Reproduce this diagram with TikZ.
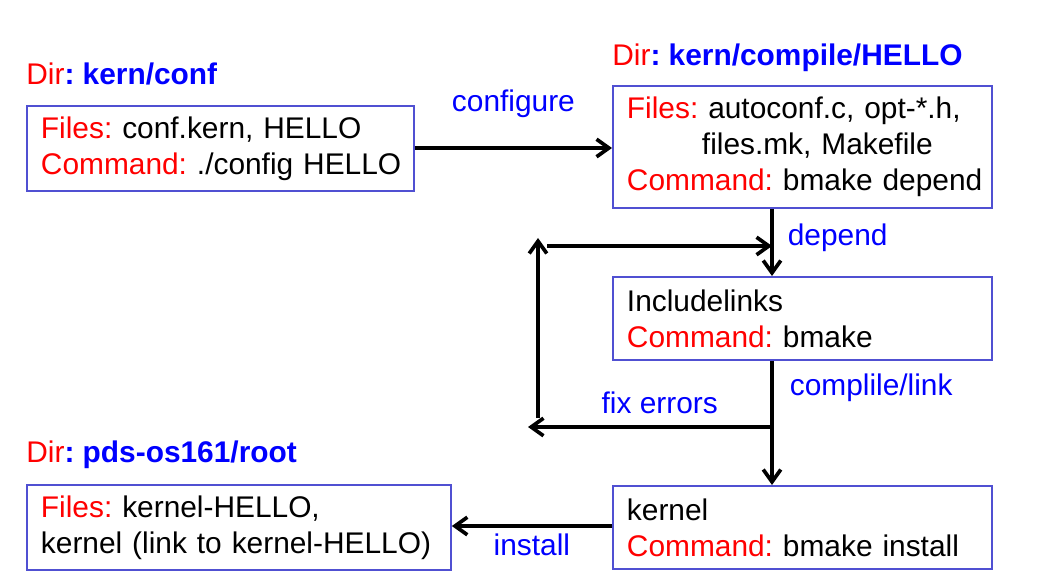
\documentclass[tikz,border=0pt]{standalone}
\usepackage{fontspec}
\setmainfont{Liberation Sans}
\usetikzlibrary{
  arrows.meta,
  math,
  positioning,
}
\definecolor{boxblue}{RGB}{80,80,210}
\newcommand{\key}[1]{\textcolor{red}{#1}}
\newcommand{\dirof}[1]{%
  \textcolor{red}{Dir}\textcolor{blue}{\textbf{: #1}}%
}

\begin{document}
\begin{tikzpicture}[
  x=0.02cm,
  y=-0.02cm,
  font={\fontsize{17}{20.5}\selectfont\frenchspacing},
  box/.style n args={2}{
    draw=boxblue,
    line width=1.1pt,
    anchor=north west,
    align=left,
    inner sep=0pt,
    text width=#1,
    minimum height=#2,
    execute at begin node={\leftskip=0.28cm},
  },
  dir/.style={
    anchor=base west,
    inner sep=0pt,
  },
  lbl/.style={
    text=blue,
    inner sep=0pt,
  },
  arrow/.style={
    -{Straight Barb[length=7pt,width=10pt]},
    line width=2.1pt,
  },
]
  \useasboundingbox (0,0) rectangle (1049,588);

  \tikzmath{
    \tapx = 772;
    \loopx = 538;
  }

  %%%%%%%%%%%%%%%%%%%% DIRECTORIES %%%%%%%%%%%%%%%%%%%%

  \node[dir] (confdir) at (26,85) {\dirof{kern/conf}};
  \node[dir] (compdir) at (612,66) {\dirof{kern/compile/HELLO}};
  \node[dir] (rootdir) at (26,462) {\dirof{pds-os161/root}};

  %%%%%%%%%%%%%%%%%%%% BOXES %%%%%%%%%%%%%%%%%%%%

  \node[box={7.74cm}{1.7cm}] (conf) at (26,105)
    {\key{Files:} conf.kern, HELLO\\
     \key{Command:} ./config HELLO};

  \node[box={7.58cm}{2.44cm}] (compile) at (612,85)
    {\key{Files:} autoconf.c, opt-*.h,\\
     \hspace*{1.5cm}files.mk, Makefile\\
     \key{Command:} bmake depend};

  \node[box={7.58cm}{1.66cm}] (incl) at (612,276)
    {Includelinks\\
     \key{Command:} bmake};

  \node[box={7.58cm}{1.66cm}] (kernel) at (612,485)
    {kernel\\
     \key{Command:} bmake install};

  \node[box={8.48cm}{1.7cm}] (root) at (26,484)
    {\key{Files:} kernel-HELLO,\\
     kernel (link to kernel-HELLO)};

  %%%%%%%%%%%%%%%%%%%% ARROWS %%%%%%%%%%%%%%%%%%%%

  \coordinate (tap) at (\tapx,0);
  \coordinate (fixstart) at (\tapx,427);
  \coordinate (fixend) at (528,427);
  \coordinate (loopbot) at (\loopx,418);
  \coordinate (looptop) at (\loopx,238);
  \coordinate (loopin) at (547,246);
  \coordinate (loophit) at (\tapx,246);

  \draw[arrow] (conf.east |- 0,148) -- (compile.west |- 0,148)
    node[lbl, midway, anchor=base, yshift=0.74cm] {configure};

  \draw[arrow] (compile.south -| tap) -- (incl.north -| tap)
    node[lbl, pos=0.54, anchor=base west, xshift=0.28cm] {depend};

  \draw[arrow] (incl.south -| tap) -- (kernel.north -| tap)
    node[lbl, pos=0.28, anchor=base west, xshift=0.32cm] {complile/link};

  \draw[arrow] (fixstart) -- (fixend)
    node[lbl, pos=0.46, anchor=base, yshift=0.28cm] {fix errors};

  \draw[arrow] (loopbot) -- (looptop);
  \draw[arrow] (loopin) -- (loophit);

  \draw[arrow] (kernel.west |- 0,526) -- (root.east |- 0,526)
    node[lbl, midway, anchor=base, yshift=-0.6cm] {install};
\end{tikzpicture}
\end{document}
